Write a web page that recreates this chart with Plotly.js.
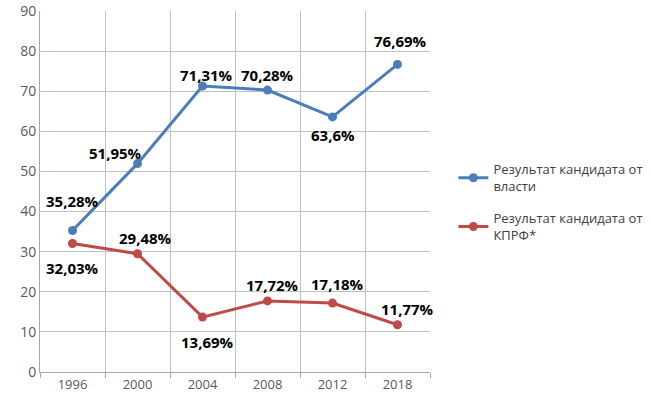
<!DOCTYPE html>
<html>
<head>
<meta charset="utf-8">
<script src="https://cdn.plot.ly/plotly-3.0.1.min.js"></script>
<style>
  html, body { margin: 0; padding: 0; background: #fff; }
  #chart { width: 652px; height: 415px; }
</style>
</head>
<body>
<div id="chart"></div>
<script>
// data
const years = ['1996', '2000', '2004', '2008', '2012', '2018'];
const powerVals = [35.28, 51.95, 71.31, 70.28, 63.6, 76.69];
const powerLabels = ['35,28%', '51,95%', '71,31%', '70,28%', '63,6%', '76,69%'];
const kprfVals = [32.03, 29.48, 13.69, 17.72, 17.18, 11.77];
const kprfLabels = ['32,03%', '29,48%', '13,69%', '17,72%', '17,18%', '11,77%'];

// label offsets in px (style, not data)
const powerShift = [[0, 29], [-22, 11], [4, 11], [0, 15], [0, -18], [3, 23]];
const kprfShift = [[0, -24], [8, 16], [5, -25], [5, 16], [5, 19], [10, 16]];

const blue = '#4a7ebb';
const red = '#be4b48';
const font = 'Open Sans, Liberation Sans, sans-serif';

const data = [
    {
        x: years,
        y: powerVals,
        type: 'scatter',
        mode: 'lines+markers',
        name: 'Результат кандидата от<br>власти',
        legendgroup: 'power',
        line: { color: blue, width: 3 },
        marker: { color: blue, size: 9 }
    },
    {
        x: years,
        y: kprfVals,
        type: 'scatter',
        mode: 'lines+markers',
        name: 'Результат кандидата от<br>КПРФ*',
        legendgroup: 'kprf',
        line: { color: red, width: 3 },
        marker: { color: red, size: 9 }
    }
];

// category axes take the serial number of the category for annotations
function labels(vals, texts, shifts) {
    return vals.map((v, i) => ({
        x: i,
        y: v,
        xref: 'x',
        yref: 'y',
        text: texts[i],
        showarrow: false,
        xshift: shifts[i][0],
        yshift: shifts[i][1],
        font: { family: font, size: 15, color: '#000', weight: 'bold' }
    }));
}

const layout = {
    width: 652,
    height: 415,
    margin: { l: 40, r: 222, t: 11, b: 43, autoexpand: false },
    paper_bgcolor: '#fff',
    plot_bgcolor: '#fff',
    font: { family: font, size: 13, color: '#595959' },
    showlegend: true,
    legend: {
        x: 1.06,
        y: 0.47,
        xanchor: 'left',
        yanchor: 'middle',
        font: { family: font, size: 13, color: '#404040' },
        tracegroupgap: 12,
        itemwidth: 30
    },
    xaxis: {
        type: 'category',
        range: [-0.5, 5.5],
        tickson: 'boundaries',
        ticks: 'outside',
        ticklen: 5,
        tickcolor: '#a6a6a6',
        tickangle: 0,
        showgrid: true,
        gridcolor: '#c0c0c0',
        showline: true,
        linecolor: '#a6a6a6',
        tickfont: { size: 13, color: '#595959' }
    },
    yaxis: {
        range: [0, 90],
        dtick: 10,
        showgrid: true,
        gridcolor: '#c0c0c0',
        showline: true,
        linecolor: '#a6a6a6',
        zeroline: false,
        ticks: '',
        tickfont: { size: 14, color: '#595959' }
    },
    annotations: labels(powerVals, powerLabels, powerShift)
        .concat(labels(kprfVals, kprfLabels, kprfShift))
};

Plotly.newPlot('chart', data, layout, { displayModeBar: false, staticPlot: true });
</script>
</body>
</html>
